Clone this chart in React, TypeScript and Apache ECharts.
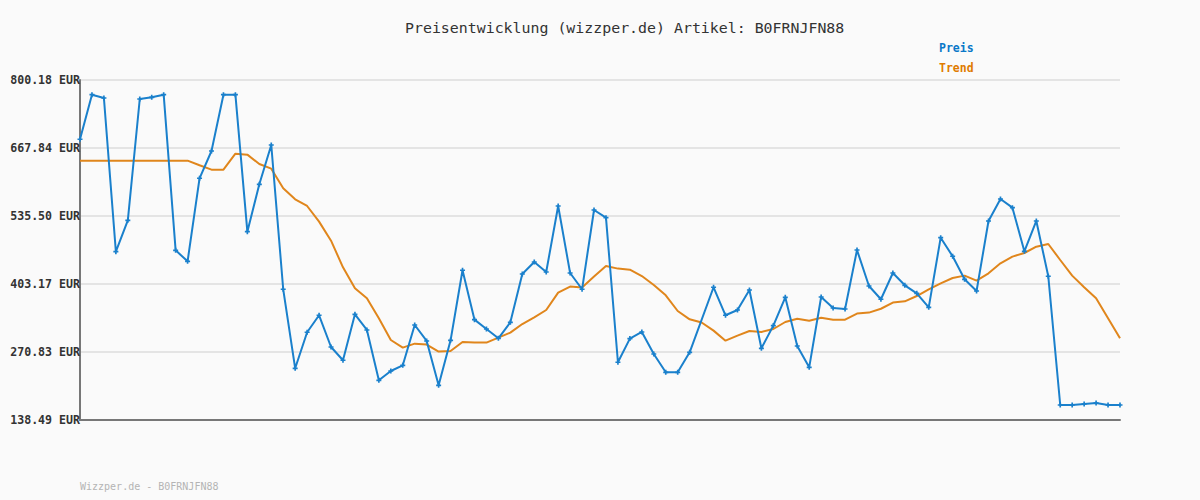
import React, { useEffect, useRef } from "react";
import * as echarts from "echarts";

const titleText = "Preisentwicklung (wizzper.de) Artikel: B0FRNJFN88";
const footerText = "Wizzper.de - B0FRNJFN88";

const yMin = 138.49;
const yMax = 800.18;
const yStep = 132.338;

const preis: (number | null)[] = [
  684.8, 771.6, 765.2, 466.1, 527.1, 763.2, 766.5, 771.6, 468.7, 447.3,
  608.9, 662.0, 771.6, 771.6, 505.0, 597.2, 673.7, 392.9, 239.1, 309.2,
  342.3, 280.6, 254.7, 344.2, 313.7, 215.7, 233.9, 244.9, 323.4, 292.3,
  206.0, 293.6, 429.9, 333.8, 315.6, 297.5, 328.6, 422.6, 446.0, 426.5,
  555.0, 424.6, 392.9, 547.2, 532.3, 250.8, 296.9, 309.8, 267.0, 231.3,
  231.3, 270.2, null, 396.8, 342.3, 352.6, 391.5, 278.0, 322.2, 377.2,
  282.5, 241.0, 377.9, 356.5, 354.5, 469.3, 399.3, 373.5, 424.6, 400.6,
  385.0, 357.8, 493.3, 457.1, 412.3, 389.5, 525.8, 568.6, 551.7, 466.8,
  525.8, 418.2, 167.7, 167.7, 169.7, 171.6, 167.7, 167.7,
];

const trend: number[] = [
  643.2, 643.2, 643.2, 643.2, 643.2, 643.2, 643.2, 643.2, 643.2, 643.2,
  634.2, 625.7, 625.7, 656.8, 654.9, 636.7, 627.6, 589.4, 568.0, 555.0,
  524.5, 487.5, 435.6, 394.8, 375.3, 336.4, 294.2, 279.3, 287.1, 285.2,
  271.6, 272.8, 290.3, 289.1, 289.1, 298.8, 308.6, 325.3, 338.3, 352.6,
  386.5, 398.1, 396.2, 417.6, 438.2, 433.1, 431.0, 418.7, 401.2, 381.1,
  350.6, 334.4, 328.3, 312.4, 292.9, 302.6, 311.7, 309.8, 315.6, 329.2,
  335.7, 331.8, 337.6, 333.8, 333.8, 345.6, 347.5, 355.0, 367.0, 369.5,
  379.8, 392.9, 404.5, 414.9, 419.5, 409.8, 424.0, 443.4, 456.5, 463.5,
  475.8, 481.0, 449.9, 419.5, 396.8, 375.3, 336.4, 297.5,
];

const categories: string[] = preis.map((_, i) => String(i + 1));

const BLUE = "#1a80cc";
const ORANGE = "#e0861c";
const MONO = "'DejaVu Sans Mono', monospace";

export default function App() {
  const ref = useRef<HTMLDivElement>(null);

  useEffect(() => {
    document.body.style.margin = "0";
    if (!ref.current) return;
    const chart = echarts.init(ref.current, undefined, { renderer: "svg" });
    chart.setOption({
      animation: false,
      backgroundColor: "#fafafa",
      title: {
        text: titleText,
        left: 400,
        top: 15,
        textStyle: {
          fontFamily: MONO,
          fontSize: 14.9,
          fontWeight: "normal",
          color: "#333333",
        },
      },
      legend: {
        orient: "vertical",
        left: 929,
        top: 37,
        itemGap: 8,
        itemWidth: 0,
        itemHeight: 0,
        icon: "rect",
        selectedMode: false,
        textStyle: {
          fontFamily: MONO,
          fontWeight: "bold",
          fontSize: 11.5,
        },
        data: [
          { name: "Preis", textStyle: { color: "#0a78c8" } },
          { name: "Trend", textStyle: { color: "#e07b00" } },
        ],
      },
      grid: { left: 80, right: 80, top: 80, bottom: 80, containLabel: false },
      xAxis: {
        type: "category",
        data: categories,
        boundaryGap: false,
        axisLine: { show: true, lineStyle: { color: "#777777", width: 2 } },
        axisTick: { show: false },
        axisLabel: { show: false },
        splitLine: { show: false },
      },
      yAxis: {
        type: "value",
        min: yMin,
        max: yMax,
        interval: yStep,
        axisLine: { show: true, lineStyle: { color: "#777777", width: 2 } },
        axisTick: { show: false },
        axisLabel: {
          margin: 0,
          fontFamily: MONO,
          fontWeight: "bold",
          fontSize: 11.6,
          color: "#333333",
          formatter: (v: number) => v.toFixed(2) + " EUR",
        },
        splitLine: { show: true, lineStyle: { color: "#e4e4e4", width: 2 } },
      },
      series: [
        {
          name: "Preis",
          type: "line",
          data: preis,
          connectNulls: true,
          color: BLUE,
          lineStyle: { color: BLUE, width: 2 },
          showSymbol: true,
          symbol: "path://M2,0h2v2h2v2h-2v2h-2v-2h-2v-2h2z",
          symbolSize: 5,
          itemStyle: { color: BLUE },
          z: 3,
        },
        {
          name: "Trend",
          type: "line",
          data: trend,
          color: ORANGE,
          lineStyle: { color: ORANGE, width: 2 },
          showSymbol: false,
          symbol: "none",
          z: 2,
        },
      ],
      graphic: [
        {
          type: "text",
          left: 80,
          top: 481,
          style: {
            text: footerText,
            fontFamily: MONO,
            fontSize: 10,
            fill: "#b4b4b4",
          },
        },
      ],
    });
    return () => chart.dispose();
  }, []);

  return <div ref={ref} style={{ width: 1200, height: 500 }} />;
}
